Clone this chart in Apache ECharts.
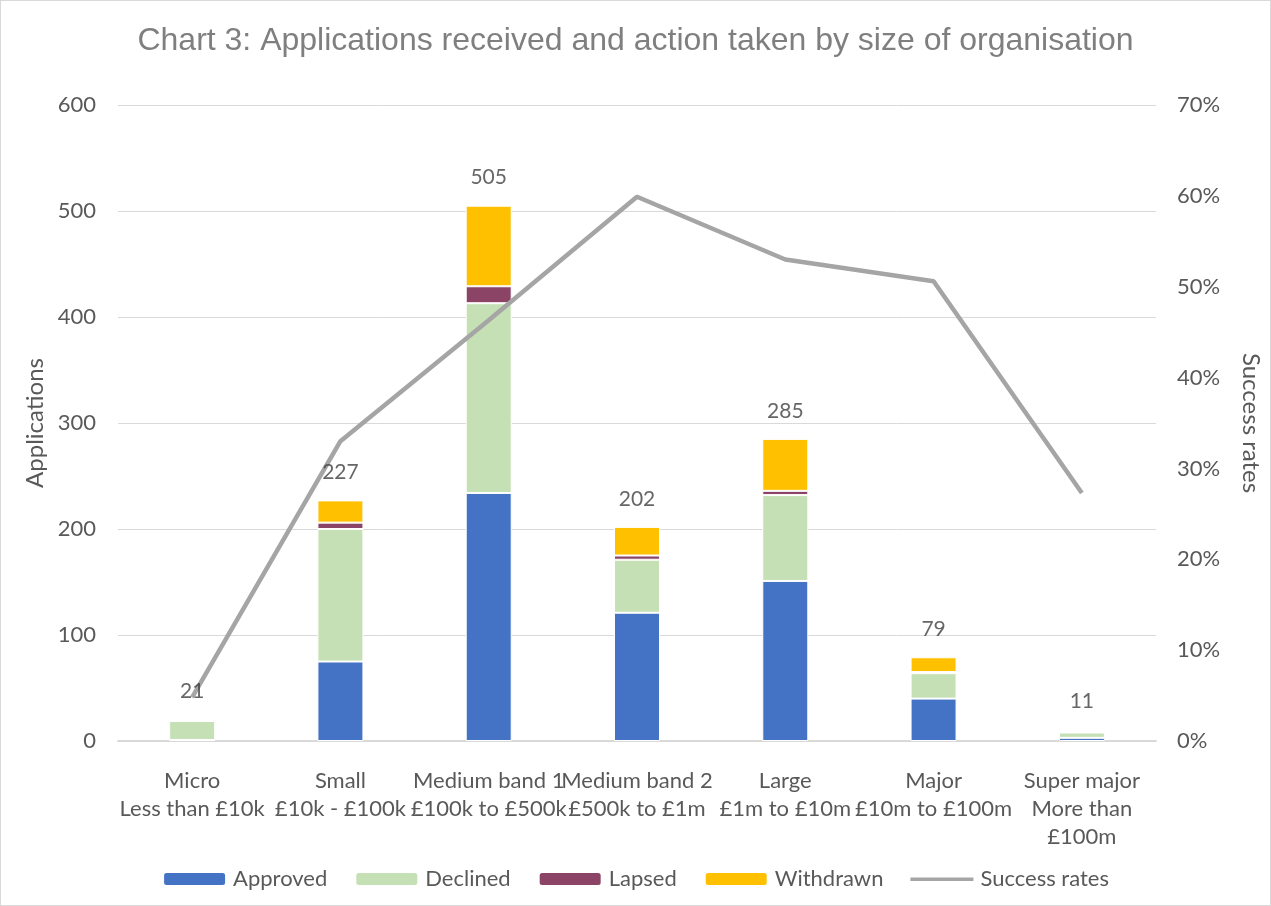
<!DOCTYPE html>
<html>
<head>
<meta charset="utf-8">
<script src="https://cdn.jsdelivr.net/npm/echarts@6/dist/echarts.min.js"></script>
<style>
  html, body { margin: 0; padding: 0; background: #fff; }
  #chart { width: 1271px; height: 906px; box-sizing: border-box; border: 1px solid #d9d9d9; }
</style>
</head>
<body>
<div id="chart"></div>
<script>
const categories = [
  "Micro\nLess than £10k",
  "Small\n£10k - £100k",
  "Medium band 1\n£100k to £500k",
  "Medium band 2\n£500k to £1m",
  "Large\n£1m to £10m",
  "Major\n£10m to £100m",
  "Super major\nMore than\n£100m",
];
const approved = [1, 75, 234, 121, 151, 40, 3];
const declined = [18, 125, 179, 50, 81, 24, 5];
const lapsed = [0, 6, 16, 4, 4, 1, 0];
const withdrawn = [0, 21, 76, 27, 49, 14, 0];
const totals = [21, 227, 505, 202, 285, 79, 11];
const successRates = [0.048, 0.330, 0.463, 0.599, 0.530, 0.506, 0.273];

const font = "Lato, 'Open Sans', sans-serif";
const grey = "#595959";
// thin line icon for the line series in the legend (tiny dots keep the full box height)
const lineIcon = "path://M0,0L0.01,0Z M0,5.5L63,5.5L63,9L0,9Z M0,14L0.01,14Z";

const chart = echarts.init(document.getElementById("chart"));

function barSeries(name, data, color) {
  return {
    name,
    type: "bar",
    stack: "apps",
    data,
    barWidth: 46,
    itemStyle: { color, borderColor: "#fff", borderWidth: 1 },
  };
}

chart.setOption({
  animation: false,
  textStyle: { fontFamily: font },
  title: {
    text: "Chart 3: Applications received and action taken by size of organisation",
    left: "center",
    top: 19,
    textStyle: { fontFamily: "'Liberation Sans', Arial, sans-serif", fontSize: 32, fontWeight: "normal", color: "#7f7f7f" },
  },
  grid: { left: 117, right: 114, top: 104, bottom: 164, outerBoundsMode: "none" },
  legend: {
    bottom: 10,
    left: "center",
    itemWidth: 63,
    itemHeight: 14,
    itemGap: 27,
    textStyle: { fontSize: 22, color: grey, fontFamily: font, padding: [0, 0, 0, 2] },
    data: [
      "Approved",
      "Declined",
      "Lapsed",
      "Withdrawn",
      { name: "Success rates", icon: lineIcon, itemStyle: { color: "#a5a5a5" } },
    ],
  },
  xAxis: {
    type: "category",
    data: categories,
    axisLine: { lineStyle: { color: "#d9d9d9", width: 2 } },
    axisTick: { show: false },
    axisLabel: { color: grey, fontSize: 22, lineHeight: 28, margin: 26, interval: 0 },
  },
  yAxis: [
    {
      type: "value",
      min: 0,
      max: 600,
      interval: 100,
      name: "Applications",
      nameLocation: "middle",
      nameGap: 69,
      nameTextStyle: { fontSize: 24, color: grey },
      axisLabel: { color: grey, fontSize: 22, margin: 22 },
      splitLine: { lineStyle: { color: "#d9d9d9", width: 1 } },
    },
    {
      type: "value",
      min: 0,
      max: 0.7,
      interval: 0.1,
      name: "Success rates",
      nameLocation: "middle",
      nameGap: 83,
      nameRotate: -90,
      nameTextStyle: { fontSize: 24, color: grey },
      axisLabel: { color: grey, fontSize: 22, margin: 21, formatter: (v) => Math.round(v * 100) + "%" },
      splitLine: { show: false },
    },
  ],
  series: [
    barSeries("Approved", approved, "#4472c4"),
    barSeries("Declined", declined, "#c5e0b4"),
    barSeries("Lapsed", lapsed, "#8b4466"),
    barSeries("Withdrawn", withdrawn, "#ffc000"),
    {
      name: "Totals",
      type: "scatter",
      data: totals,
      symbolSize: 1,
      itemStyle: { color: "rgba(0,0,0,0)" },
      label: { show: true, position: "top", distance: 17, fontSize: 21, color: "#404040" },
      silent: true,
      z: 5,
    },
    {
      name: "Success rates",
      type: "line",
      yAxisIndex: 1,
      data: successRates,
      symbol: "none",
      lineStyle: { color: "#a5a5a5", width: 4.5 },
      itemStyle: { color: "#a5a5a5" },
      z: 4,
    },
  ],
});
</script>
</body>
</html>
